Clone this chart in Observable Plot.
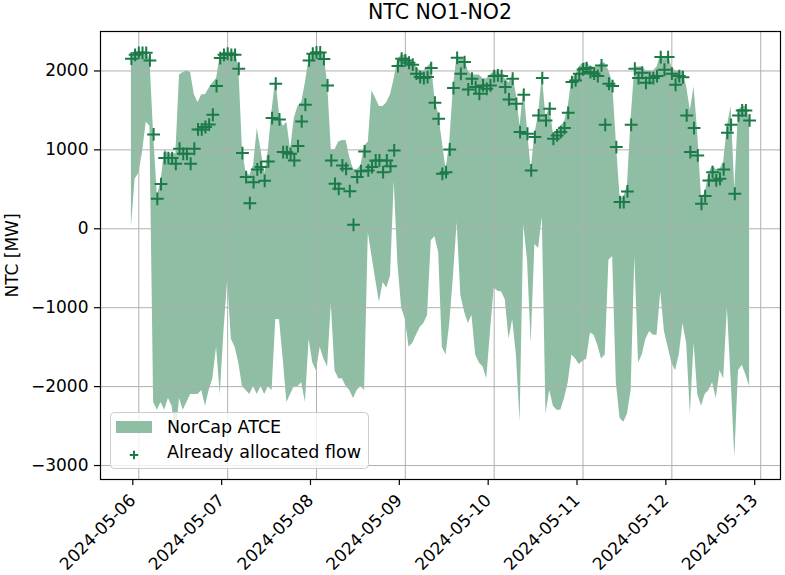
<!DOCTYPE html>
<html>
<head>
<meta charset="utf-8">
<script src="https://cdn.jsdelivr.net/npm/d3@7"></script>
<script src="https://cdn.jsdelivr.net/npm/@observablehq/plot@0.6"></script>
<style>
  html, body { margin: 0; padding: 0; background: #fff; }
  #wrap { position: relative; width: 785px; height: 575px; font-family: "DejaVu Sans", sans-serif; }
  #title { position: absolute; left: 100px; width: 680px; top: 2px; text-align: center; font-size: 20.5px; line-height: 20px; color: #000; }
  #legend { position: absolute; left: 0; top: 0; }
  svg.mainplot text { font-family: "DejaVu Sans", sans-serif !important; font-size: 17px !important; fill: #000; }
</style>
</head>
<body>
<div id="wrap">
  <div id="title">NTC NO1-NO2</div>
</div>
<script>
// Hourly timestamps (UTC), first hour
const startTime = "2024-05-05T22:00:00Z";

// NorCap ATCE upper bound [MW]
const upper = [
  2160,2240,2240,2240,2240,2150,1200,420,600,1000,950,950,950,1950,1980,2000,1980,1700,1600,1700,
  1700,1780,1850,1900,2200,2240,2240,2240,2240,2060,1000,700,680,800,1270,1000,700,1000,1500,1900,1450,1300,
  1350,1000,1400,1550,1600,1850,2150,2240,2240,2240,2200,1850,1000,1000,1100,1120,1120,900,750,750,800,
  1050,1100,1750,1650,1550,1550,1600,1700,1900,2150,2200,2200,2150,2100,2050,2000,2000,2050,2100,1650,1450,1100,
  750,1100,1800,2200,2150,2150,2000,1950,1950,1950,1900,1900,1950,2000,2000,1950,1900,1850,1950,1700,1300,
  1800,1250,750,1200,1450,1950,1400,1550,1200,1250,1300,1350,1550,1900,1950,2050,2100,2100,2050,2050,2050,2100,
  2100,2000,1850,1100,400,400,550,1400,2050,2050,2050,2000,2000,2000,2050,2200,2150,2200,2050,2000,2000,2000,
  1800,1500,1800,1200,400,450,700,800,750,750,850,1300,1550,500,1500,1550,1550,1400
];

// NorCap ATCE lower bound [MW]
const lower = [
  20,630,700,970,1350,1300,-2200,-2300,-2200,-2300,-2150,-2250,-2650,-2150,-2300,-2200,-2100,-2100,-2100,-2050,
  -2250,-2050,-1900,-1500,-2100,-1300,-650,-1400,-1500,-1700,-2000,-2050,-2100,-2000,-2100,-2000,-2100,-2000,-2050,-1150,-1150,-1650,
  -2200,-2100,-2000,-2000,-1950,-2200,-1400,-1700,-1800,-1500,-1650,-1750,-950,-1800,-1900,-1900,-2000,-2050,-2150,-2050,-2000,
  -2050,-50,-350,-650,-930,-680,-750,-600,600,-450,-1000,-1150,-1500,-1450,-1350,-1250,-1200,-1100,-150,-100,-300,-1500,
  -1600,-1200,-600,80,-850,-1050,-1200,-1100,-1600,-1700,-1750,-1900,-1300,-750,-790,-800,-900,-1400,-1150,-1600,-2450,
  50,-400,-1450,-200,-250,150,-2350,-2050,-2250,-2300,-2300,-2150,-1950,-1600,-1650,-1720,-1680,-1650,-1320,-1350,-1480,-1650,
  -1600,-400,-350,-1950,-2400,-2450,-2350,-2050,-350,-1700,-1600,-1400,-1300,-1350,-1350,-800,-1300,-1500,-1700,-1800,-1600,-1200,
  -1450,-2350,-1450,-2100,-2250,-2100,-2050,-1950,-2150,-1800,-1900,-1000,-1900,-2900,-1800,-1730,-1850,-2000
];

// Already allocated flow [MW]
const allocated = [
  2155,2205,2230,2230,2230,2133,1196,380,566,896,896,896,824,1014,950,950,824,1014,1259,1259,
  1290,1320,1445,1808,2163,2205,2218,2205,2205,2028,959,655,325,591,752,782,608,853,1403,1838,1386,972,
  970,950,866,1048,1360,1572,2133,2218,2235,2235,2150,1817,866,570,507,803,760,477,50,655,730,
  980,740,782,866,866,718,866,794,993,2062,2155,2133,2104,2079,1965,1922,1910,1922,2036,1597,1394,697,
  718,1005,1783,2167,1964,2112,1766,1901,1796,1711,1817,1774,1817,1935,1943,1935,1796,1639,1901,1584,1225,
  1698,1204,739,1162,1436,1910,1373,1521,1141,1183,1225,1276,1470,1859,1880,1965,2020,2036,1986,1965,1935,2070,
  1318,1838,1808,1035,338,338,473,1318,2028,1910,1977,1850,1910,1910,1935,2176,2015,2176,1965,1825,1935,1920,
  1436,972,1276,930,317,414,613,718,613,634,752,1217,1318,444,1436,1500,1500,1373
];

const xTickLabels = ["2024-05-06","2024-05-07","2024-05-08","2024-05-09","2024-05-10","2024-05-11","2024-05-12","2024-05-13"];
const yTicks = [-3000,-2000,-1000,0,1000,2000];

const fillColor = "#8fbea5";
const markColor = "#1b7a48";

const t0 = new Date(startTime).getTime();
const rows = upper.map((u, i) => ({
  t: new Date(t0 + i * 3600e3),
  hi: u,
  lo: lower[i],
  flow: allocated[i]
}));

const tMin = rows[0].t.getTime(), tMax = rows[rows.length - 1].t.getTime();
const pad = (tMax - tMin) * 0.05;
const xTicks = xTickLabels.map(s => new Date(s + "T00:00:00Z"));
const fmtY = d => d < 0 ? "\u2212" + Math.abs(d) : String(d);

const chart = Plot.plot({
  width: 785,
  height: 575,
  marginLeft: 100,
  marginRight: 5,
  marginTop: 31,
  marginBottom: 96,
  style: { fontFamily: "DejaVu Sans, sans-serif", fontSize: "17px", color: "#000", background: "transparent" },
  x: { type: "utc", domain: [new Date(tMin - pad), new Date(tMax + pad)] },
  y: { domain: [-3177, 2500] },
  marks: [
    Plot.areaY(rows, { x: "t", y1: "lo", y2: "hi", fill: fillColor, curve: "linear" }),
    Plot.gridX(xTicks, { stroke: "#b0b0b0", strokeOpacity: 1, strokeWidth: 1 }),
    Plot.gridY(yTicks, { stroke: "#b0b0b0", strokeOpacity: 1, strokeWidth: 1 }),
    Plot.dot(rows, { x: "t", y: "flow", symbol: "plus", r: 4.2, stroke: markColor, strokeWidth: 2 }),
    Plot.axisY(yTicks, { anchor: "left", tickSize: 6, tickPadding: 6, tickFormat: fmtY, label: "NTC [MW]", labelAnchor: "center", labelArrow: "none", labelOffset: 95, strokeWidth: 1.2 }),
    Plot.axisX(xTicks, { anchor: "bottom", tickSize: 6, tickPadding: 12, tickRotate: -45, tickFormat: d3.utcFormat("%Y-%m-%d"), label: null, strokeWidth: 1.2, dx: -6 }),
    Plot.frame({ stroke: "#000", strokeWidth: 1.2 })
  ]
});
chart.classList.add("mainplot");

const wrap = document.getElementById("wrap");
wrap.insertBefore(chart, wrap.firstChild);

// Legend (matplotlib-style, inside the axes, lower left)
const ns = "http://www.w3.org/2000/svg";
const leg = document.createElementNS(ns, "svg");
leg.setAttribute("id", "legend");
leg.setAttribute("width", 785);
leg.setAttribute("height", 575);
leg.style.pointerEvents = "none";
leg.innerHTML = `
  <rect x="110.5" y="412.5" width="258" height="56" rx="4" ry="4" fill="rgba(255,255,255,0.8)" stroke="#cccccc" stroke-width="1"/>
  <rect x="116" y="421" width="36" height="12" fill="${fillColor}"/>
  <text x="167" y="433" font-family="DejaVu Sans, sans-serif" font-size="17.5" fill="#000">NorCap ATCE</text>
  <path d="M129.8,455H138.2M134,450.8V459.2" stroke="${markColor}" stroke-width="2" fill="none"/>
  <text x="167" y="458" font-family="DejaVu Sans, sans-serif" font-size="17.5" fill="#000">Already allocated flow</text>
`;
wrap.appendChild(leg);
</script>
</body>
</html>
